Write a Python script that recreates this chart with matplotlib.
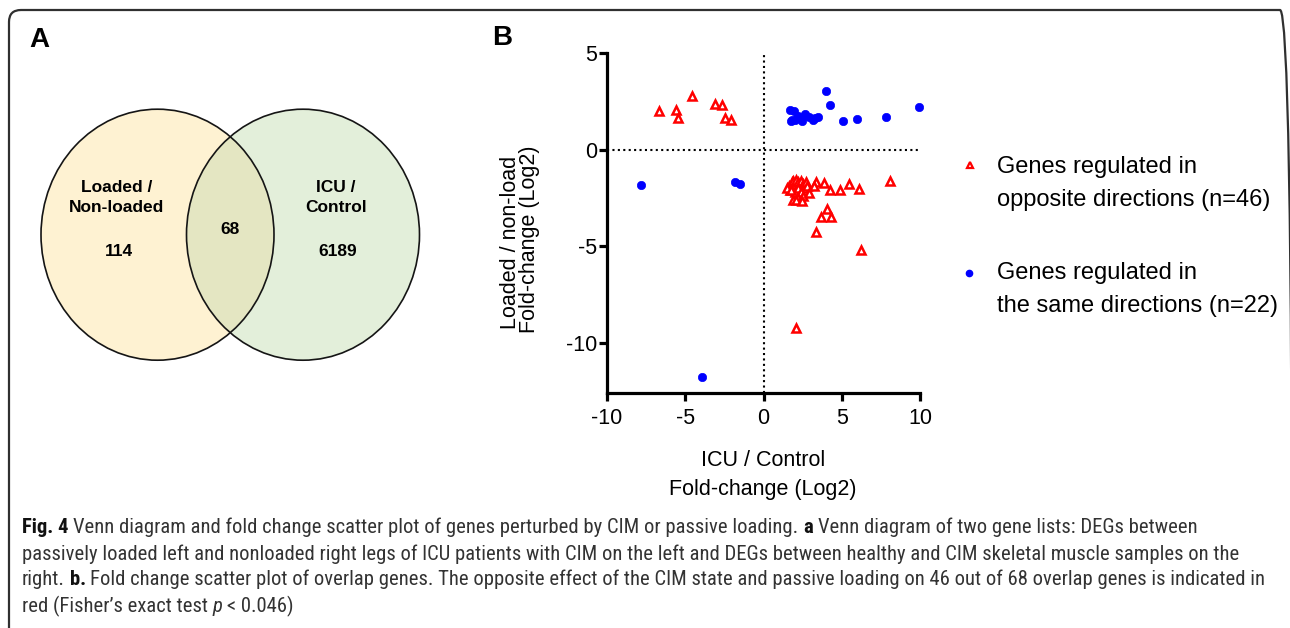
import matplotlib
matplotlib.use("Agg")
import matplotlib.pyplot as plt
from matplotlib.patches import Ellipse, FancyBboxPatch
from matplotlib.lines import Line2D
from matplotlib import font_manager
from matplotlib.transforms import IdentityTransform

# ---------------- data ----------------
# Genes regulated in opposite directions (red open triangles)
opp_x = [-6.67, -5.62, -5.48, -4.56, -3.11, -2.68, -2.49, -2.07,
         8.09, 3.36, 3.87, 4.26, 4.88, 5.45, 6.09, 4.04, 3.70, 4.30, 3.34, 6.22, 2.10,
         1.60, 1.70, 1.80, 1.90, 2.00, 2.10, 2.20, 2.30, 2.40, 2.50, 2.60, 1.50, 2.00,
         2.20, 2.40, 2.70, 2.80, 1.91, 2.20, 2.50, 2.10, 2.43, 2.92, 3.20, 1.74]
opp_y = [1.98, 2.07, 1.62, 2.76, 2.38, 2.31, 1.62, 1.54,
         -1.60, -1.67, -1.72, -2.10, -2.07, -1.80, -2.03, -3.10, -3.50, -3.50, -4.28, -5.22, -9.22,
         -1.90, -2.10, -1.70, -1.60, -1.80, -1.55, -1.70, -1.90, -1.60, -1.80, -2.00, -2.00, -2.20,
         -2.00, -2.20, -1.70, -1.90, -2.59, -2.50, -2.40, -2.60, -2.67, -2.24, -1.90, -2.07]
# Genes regulated in the same directions (blue dots)
same_x = [3.98, 4.28, 9.94, 1.68, 1.96, 1.74, 2.02, 2.45, 2.64, 2.92, 3.17, 3.49, 5.11, 6.00, 7.81,
          2.20, 1.85, 3.30, -7.84, -1.83, -1.53, -3.96]
same_y = [3.05, 2.33, 2.21, 2.05, 1.98, 1.48, 1.55, 1.48, 1.86, 1.69, 1.55, 1.69, 1.50, 1.60, 1.71,
          1.75, 1.55, 1.62, -1.85, -1.67, -1.76, -11.78]

x_ticks = [-10, -5, 0, 5, 10]
y_ticks = [5, 0, -5, -10]
x_label = ["ICU / Control", "Fold-change (Log2)"]
y_label = ["Loaded / non-load", "Fold-change (Log2)"]
legend_labels = [["Genes regulated in", "opposite directions (n=46)"],
                 ["Genes regulated in", "the same directions (n=22)"]]

venn_names = [["Loaded /", "Non-loaded"], ["ICU /", "Control"]]
venn_counts = [114, 68, 6189]   # left only, overlap, right only

caption_lines = [
    [("Fig. 4", "bold"), ("Venn diagram and fold change scatter plot of genes perturbed by CIM or passive loading.", "normal"),
     ("a", "bold"), ("Venn diagram of two gene lists: DEGs between", "normal")],
    [("passively loaded left and nonloaded right legs of ICU patients with CIM on the left and DEGs between healthy and CIM skeletal muscle samples on the", "normal")],
    [("right.", "normal"), ("b.", "bold"),
     ("Fold change scatter plot of overlap genes. The opposite effect of the CIM state and passive loading on 46 out of 68 overlap genes is indicated in", "normal")],
    [("red (Fisher\u2019s exact test", "normal"), ("p", "italic"), ("< 0.046)", "normal")],
]

# ---------------- style ----------------
W, H = 1290, 628
plt.rcParams['font.family'] = ['Liberation Sans', 'DejaVu Sans']
plt.rcParams['axes.unicode_minus'] = False

names = {f.name for f in font_manager.fontManager.ttflist}
cap_font = 'Liberation Sans'
for cand in ['Roboto Condensed', 'Liberation Sans Narrow', 'Open Sans Condensed',
             'DejaVu Sans Condensed', 'Noto Sans Condensed']:
    if cand in names:
        cap_font = cand
        break

fig = plt.figure(figsize=(W / 100, H / 100), dpi=100)

def fx(px):
    return px / W

def fy(py):
    return 1 - py / H

# outer rounded frame
frame = FancyBboxPatch((9, -40), 1283, 40 + (H - 10), boxstyle="round,pad=0,rounding_size=12",
                       transform=IdentityTransform(), facecolor='none', edgecolor='#303030',
                       linewidth=1.6, zorder=0)
fig.patches.append(frame)

# ---------------- panel A: Venn ----------------
axv = fig.add_axes([0, 0, 1, 1])
axv.set_xlim(0, W)
axv.set_ylim(H, 0)
axv.axis('off')

ew, eh = 233, 251
lc = (157.5, 234.7)
rc = (303.0, 234.7)
left_fill = Ellipse(lc, ew, eh, facecolor='#FEF2D2', edgecolor='none', zorder=1)
right_fill = Ellipse(rc, ew, eh, facecolor='#E3EFDA', edgecolor='none', zorder=1)
axv.add_patch(left_fill)
axv.add_patch(right_fill)
inter = Ellipse(rc, ew, eh, facecolor='#E4E6C2', edgecolor='none', zorder=2)
axv.add_patch(inter)
inter.set_clip_path(left_fill)
for c in (lc, rc):
    axv.add_patch(Ellipse(c, ew, eh, facecolor='none', edgecolor='#151515', linewidth=1.2, zorder=3))

vfs = 12.5
axv.text(117, 187, venn_names[0][0], ha='center', va='center', fontsize=vfs, fontweight='bold')
axv.text(117, 208, venn_names[0][1], ha='center', va='center', fontsize=vfs, fontweight='bold')
axv.text(119, 251, str(venn_counts[0]), ha='center', va='center', fontsize=vfs, fontweight='bold')
axv.text(230, 229, str(venn_counts[1]), ha='center', va='center', fontsize=vfs, fontweight='bold')
axv.text(336, 187, venn_names[1][0], ha='center', va='center', fontsize=vfs, fontweight='bold')
axv.text(336, 208, venn_names[1][1], ha='center', va='center', fontsize=vfs, fontweight='bold')
axv.text(338, 251, str(venn_counts[2]), ha='center', va='center', fontsize=vfs, fontweight='bold')

fig.text(fx(29), fy(40), "A", ha='left', va='center', fontsize=20, fontweight='bold')
fig.text(fx(492), fy(38), "B", ha='left', va='center', fontsize=20, fontweight='bold')

# ---------------- panel B: scatter ----------------
ax = fig.add_axes([fx(607), fy(393), (920 - 607) / W, (393 - 53) / H])
ax.set_xlim(-10, 10)
ax.set_ylim(-12.6, 5)
ax.axvline(0, color='black', linestyle=(0, (1, 1.6)), linewidth=1.5, zorder=1)
ax.axhline(0, color='black', linestyle=(0, (1, 1.6)), linewidth=1.5, zorder=1)
ax.plot(same_x, same_y, linestyle='none', marker='o', markersize=6, markerfacecolor='#0000FF',
        markeredgecolor='#0000FF', markeredgewidth=0.5, clip_on=False, zorder=3)
ax.plot(opp_x, opp_y, linestyle='none', marker='^', markersize=6, markerfacecolor='white',
        markeredgecolor='#FF0000', markeredgewidth=1.8, clip_on=False, zorder=4)
ax.set_xticks(x_ticks)
ax.set_yticks(y_ticks)
ax.set_xticklabels([str(t) for t in x_ticks])
ax.set_yticklabels([str(t) for t in y_ticks])
for s in ('top', 'right'):
    ax.spines[s].set_visible(False)
for s in ('left', 'bottom'):
    ax.spines[s].set_linewidth(2.3)
ax.tick_params(axis='both', direction='out', length=6, width=2.3, labelsize=15.5, colors='black')
ax.tick_params(axis='y', pad=1)
ax.tick_params(axis='x', pad=5)

fig.text(fx(763), fy(460), x_label[0], ha='center', va='center', fontsize=15.5)
fig.text(fx(763), fy(489), x_label[1], ha='center', va='center', fontsize=15.5)
fig.text(fx(510), fy(242), y_label[0], ha='center', va='center', fontsize=15.5, rotation=90)
fig.text(fx(530), fy(239), y_label[1], ha='center', va='center', fontsize=15.5, rotation=90)

# legend (manual)
lfs = 17
fig.add_artist(Line2D([fx(970)], [fy(165)], linestyle='none', marker='^', markersize=4.5,
                      markerfacecolor='white', markeredgecolor='#FF0000', markeredgewidth=1.6))
fig.text(fx(997), fy(167), legend_labels[0][0], ha='left', va='center', fontsize=lfs)
fig.text(fx(997), fy(200), legend_labels[0][1], ha='left', va='center', fontsize=lfs)
fig.add_artist(Line2D([fx(969)], [fy(273)], linestyle='none', marker='o', markersize=4.5,
                      markerfacecolor='#0000FF', markeredgecolor='#0000FF'))
fig.text(fx(997), fy(273), legend_labels[1][0], ha='left', va='center', fontsize=lfs)
fig.text(fx(997), fy(306), legend_labels[1][1], ha='left', va='center', fontsize=lfs)

# ---------------- caption ----------------
renderer = fig.canvas.get_renderer()

def measure(txt, weight, style, size):
    t = fig.text(0, 0, txt, fontsize=size, fontweight=weight, fontstyle=style, family=[cap_font, 'DejaVu Sans'])
    w = t.get_window_extent(renderer).width
    t.remove()
    return w

def line_width(pieces, size):
    sp = measure("a a", "normal", "normal", size) - measure("aa", "normal", "normal", size)
    tot = 0
    for i, (txt, kind) in enumerate(pieces):
        wt = 'bold' if kind == 'bold' else 'normal'
        st = 'italic' if kind == 'italic' else 'normal'
        tot += measure(txt, wt, st, size)
        if i < len(pieces) - 1:
            tot += sp
    return tot

base = 12.0
w3 = line_width(caption_lines[2], base)
cap_size = base * (1265 - 22) / w3
cap_size = min(cap_size, 16.0)

baselines = [533, 560, 585, 612]
sp = measure("a a", "normal", "normal", cap_size) - measure("aa", "normal", "normal", cap_size)
for pieces, by in zip(caption_lines, baselines):
    x = 22.0
    for txt, kind in pieces:
        wt = 'bold' if kind == 'bold' else 'normal'
        st = 'italic' if kind == 'italic' else 'normal'
        col = '#111111' if kind == 'bold' else '#333333'
        t = fig.text(fx(x), fy(by), txt, ha='left', va='baseline', fontsize=cap_size,
                     fontweight=wt, fontstyle=st, family=[cap_font, 'DejaVu Sans'], color=col)
        x += t.get_window_extent(renderer).width + sp

fig.savefig("out.png", dpi=100)
